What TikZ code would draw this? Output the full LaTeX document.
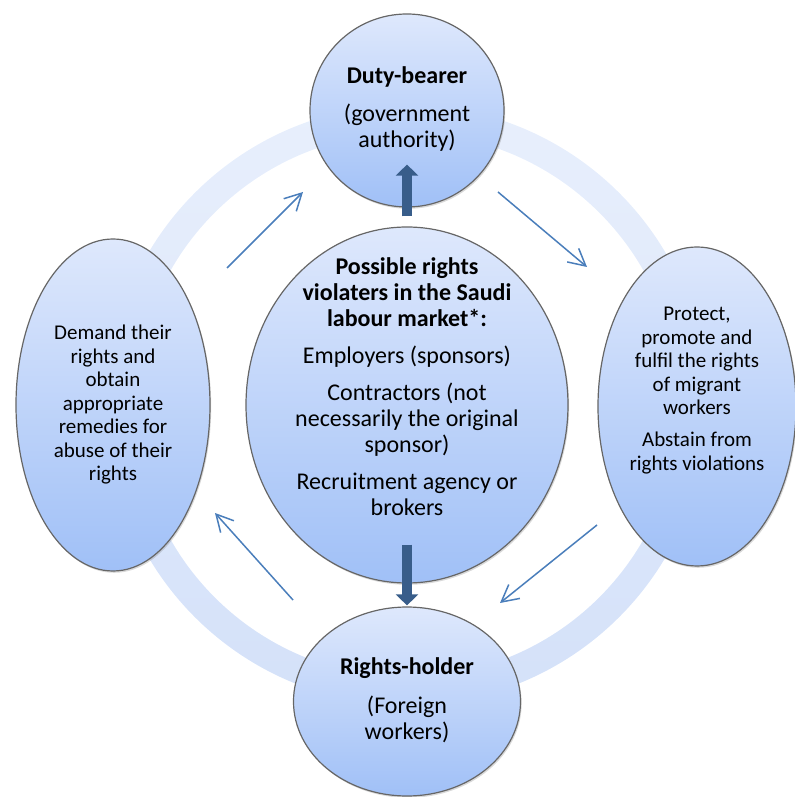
\documentclass[tikz,border=0pt]{standalone}
\usepackage{fontspec}
\setmainfont{Carlito}
\usetikzlibrary{arrows.meta,shapes.geometric,shadows}
\definecolor{ovaltop}{RGB}{222,232,252}
\definecolor{ovalbottom}{RGB}{160,192,247}
\definecolor{ringtop}{RGB}{232,239,252}
\definecolor{ringbottom}{RGB}{212,225,249}
\definecolor{flowblue}{RGB}{74,126,187}
\definecolor{pushblue}{RGB}{56,93,138}
\tikzset{
  oval/.style      = {shape=ellipse, draw=black!60, line width=0.6pt,
                      inner sep=0pt, top color=ovaltop, bottom color=ovalbottom,
                      drop shadow={shadow xshift=0.6pt, shadow yshift=-0.9pt,
                                   opacity=0.3}},
  bigtext/.style   = {align=center, font=\fontsize{12}{13}\selectfont},
  smalltext/.style = {align=center, font=\fontsize{10.5}{11.75}\selectfont},
  flow/.style      = {draw=flowblue, line width=0.75pt,
                      -{Straight Barb[length=8.4pt,width=8.9pt]}},
  push/.style      = {draw=pushblue, line width=5pt,
                      -{Triangle[length=5.5pt,width=11pt]}}
}

\begin{document}
\begin{tikzpicture}[x=1pt, y=1pt]
  \useasboundingbox (-203.5,-196) rectangle (194,202.5);

  % ring behind the five ovals
  \coordinate (hub) at (0,0);
  \shade[even odd rule, top color=ringtop, bottom color=ringbottom]
    (hub) circle[radius=150] (hub) circle[radius=136];

  \coordinate (nw1) at (-90,68.5);
  \coordinate (nw2) at (-52,106.5);
  \coordinate (ne1) at (45.5,106.5);
  \coordinate (ne2) at (90,69);
  \coordinate (se1) at (95,-60);
  \coordinate (se2) at (46.5,-99);
  \coordinate (sw1) at (-57,-97.5);
  \coordinate (sw2) at (-96,-54);
  \draw[flow] (nw1) -- (nw2);
  \draw[flow] (ne1) -- (ne2);
  \draw[flow] (se1) -- (se2);
  \draw[flow] (sw1) -- (sw2);

  \node[oval, minimum width=97pt, minimum height=96.5pt] (duty) at (0,147.25) {};
  \node[oval, minimum width=161pt, minimum height=178pt] (viol) at (hub) {};
  \node[oval, minimum width=99pt, minimum height=159.5pt] (guard) at (145,-0.75) {};
  \node[oval, minimum width=97pt, minimum height=166pt] (claim) at (-147,0) {};
  \node[oval, minimum width=113.5pt, minimum height=94.5pt] (holder) at (0,-148.25) {};

  \node[bigtext] at ([yshift=0.75pt]duty)
    {\textbf{Duty-bearer}\\[6pt](government\\authority)};
  \node[bigtext] at ([yshift=9pt]viol)
    {\textbf{Possible rights}\\\textbf{violaters in the Saudi}\\
     \textbf{labour market*:}\\[5.5pt]Employers (sponsors)\\[5.5pt]
     Contractors (not\\necessarily the original\\sponsor)\\[5.5pt]
     Recruitment agency or\\brokers};
  \node[smalltext] at ([yshift=8pt]guard)
    {Protect,\\promote and\\fulfil the rights\\of migrant\\workers\\[4.25pt]
     Abstain from\\rights violations};
  \node[smalltext] at (claim)
    {Demand their\\rights and\\obtain\\appropriate\\remedies for\\
     abuse of their\\rights};
  \node[bigtext] at ([yshift=0.75pt]holder)
    {\textbf{Rights-holder}\\[6.5pt](Foreign\\workers)};

  \draw[push] ([yshift=5pt]viol.north) -- ([yshift=21.5pt]duty.south);
  \draw[push] ([yshift=19.5pt]viol.south) -- ([yshift=0.5pt]holder.north);
\end{tikzpicture}
\end{document}
